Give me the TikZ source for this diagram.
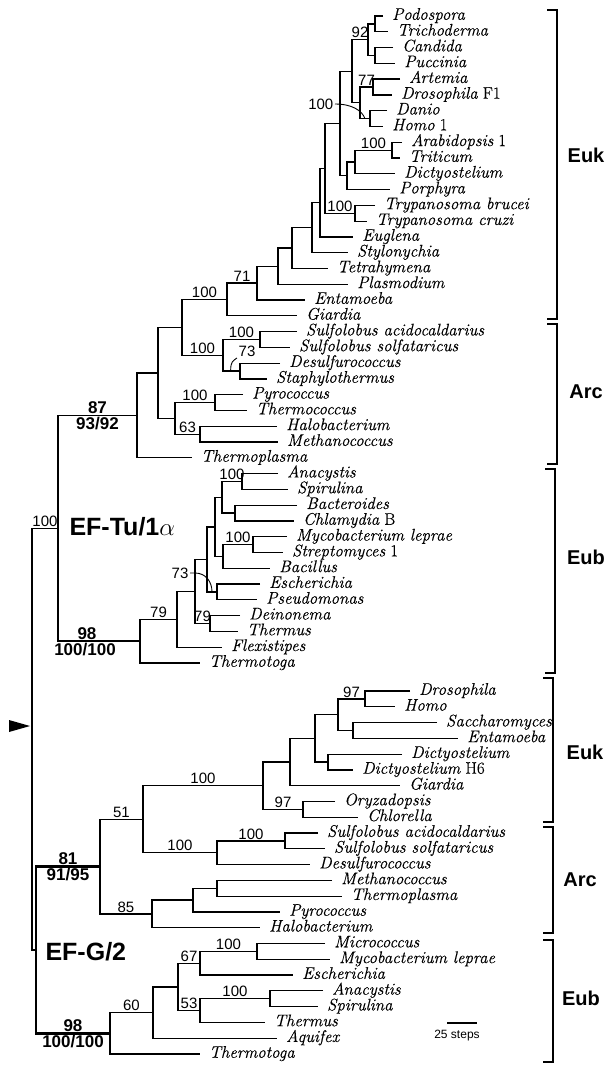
\documentclass[tikz,border=0pt]{standalone}
\usepackage{fontspec}
\newfontfamily\arialf{Liberation Sans}
\newfontfamily\leaffam{Latin Modern Roman}[FakeBold=0.35]
\usetikzlibrary{calc}
\newcommand\tLeaf{\leaffam\fontsize{16.8}{17}\selectfont}
\newcommand\tBs{\arialf\fontsize{15}{16}\selectfont}
\newcommand\tBsb{\arialf\bfseries\fontsize{17}{18}\selectfont}
\newcommand\tGrp{\arialf\bfseries\fontsize{20}{22}\selectfont}
\newcommand\tEf{\arialf\bfseries\fontsize{25}{27}\selectfont}
\newcommand\tSmall{\arialf\fontsize{12}{13}\selectfont}
% leaves: name, index, x of branch end, text
\newcommand\lfa[4]{\coordinate (#1) at (#3,{16+15.78*#2}); \node[leaf] (#1t) at (#1) {#4};}
\newcommand\lfb[4]{\coordinate (#1) at (#3,{691+15.78*#2}); \node[leaf] (#1t) at (#1) {#4};}
% clade: [style] name, x, child1, child2
\newcommand\clade[5][]{%
  \path let \p1=(#4), \p2=(#5) in coordinate (#2) at (#3pt,{0.5*\y1+0.5*\y2});
  \draw[br,#1] (#4) -- (#2 |- #4) -- (#2 |- #5) -- (#5);}
% bootstrap label centred above branch parent->child
\newcommand\bsup[4]{\node[bs,above] (#1) at ($(#2 |- #3)!0.5!(#3)$) {#4};}
\newcommand\brak[4]{%
  \coordinate (#1a) at (#2-10,#3); \coordinate (#1b) at (#2,#3);
  \coordinate (#1c) at (#2,#4); \coordinate (#1d) at (#2-10,#4);
  \draw[br] (#1a) -- (#1b) -- (#1c) -- (#1d);}
\begin{document}
\begin{tikzpicture}[x=1pt,y=-1pt,
  br/.style={line width=1.25pt, line join=miter},
  thk/.style={line width=2.6pt},
  leaf/.style={anchor=base west, inner sep=0pt, xshift=9pt, yshift=-3.8pt, font=\tLeaf},
  bs/.style={font=\tBs, inner sep=1.5pt},
  bsb/.style={font=\tBsb, inner sep=1.5pt},
  grp/.style={font=\tGrp}]
\fill[white] (0,0) rectangle (612,1065);
\useasboundingbox (0,0) rectangle (612,1065);

% ================= EF-Tu/1alpha =================
\lfa{aPod}{0}{383}{\itshape Podospora}
\lfa{aTri}{1}{388}{\itshape Trichoderma}
\lfa{aCan}{2}{393}{\itshape Candida}
\lfa{aPuc}{3}{395}{\itshape Puccinia}
\lfa{aArt}{4}{400}{\itshape Artemia}
\lfa{aDro}{5}{392}{{\itshape Drosophila} F1}
\lfa{aDan}{6}{387}{\itshape Danio}
\lfa{aHom}{7}{383}{{\itshape Homo} 1}
\lfa{aAra}{8}{402}{{\itshape Arabidopsis} 1}
\lfa{aTrt}{9}{400}{\itshape Triticum}
\lfa{aDic}{10}{395}{\itshape Dictyostelium}
\lfa{aPor}{11}{390}{\itshape Porphyra}
\lfa{aTbr}{12}{375}{\itshape Trypanosoma brucei}
\lfa{aTcr}{13}{367}{\itshape Trypanosoma cruzi}
\lfa{aEug}{14}{353}{\itshape Euglena}
\lfa{aSty}{15}{348}{\itshape Stylonychia}
\lfa{aTet}{16}{328}{\itshape Tetrahymena}
\lfa{aPla}{17}{348}{\itshape Plasmodium}
\lfa{aEnt}{18}{305}{\itshape Entamoeba}
\lfa{aGia}{19}{297}{\itshape Giardia}
\lfa{aSac}{20}{297}{\itshape Sulfolobus acidocaldarius}
\lfa{aSso}{21}{290}{\itshape Sulfolobus solfataricus}
\lfa{aDes}{22}{280}{\itshape Desulfurococcus}
\lfa{aSta}{23}{267}{\itshape Staphylothermus}
\lfa{aPyr}{24}{243}{\itshape Pyrococcus}
\lfa{aThc}{25}{247}{\itshape Thermococcus}
\lfa{aHal}{26}{277}{\itshape Halobacterium}
\lfa{aMet}{27}{278}{\itshape Methanococcus}
\lfa{aTpl}{28}{192}{\itshape Thermoplasma}
\lfa{aAna}{29}{278}{\itshape Anacystis}
\lfa{aSpi}{30}{288}{\itshape Spirulina}
\lfa{aBac}{31}{297}{\itshape Bacteroides}
\lfa{aChl}{32}{294}{{\itshape Chlamydia} B}
\lfa{aMyc}{33}{287}{\itshape Mycobacterium leprae}
\lfa{aStr}{34}{283}{{\itshape Streptomyces} 1}
\lfa{aBcl}{35}{270}{\itshape Bacillus}
\lfa{aEsc}{36}{260}{\itshape Escherichia}
\lfa{aPse}{37}{257}{\itshape Pseudomonas}
\lfa{aDei}{38}{240}{\itshape Deinonema}
\lfa{aThe}{39}{238}{\itshape Thermus}
\lfa{aFle}{40}{222}{\itshape Flexistipes}
\lfa{aTmt}{41}{200}{\itshape Thermotoga}

\clade{aPT}{375}{aPod}{aTri}
\clade{aCP}{375}{aCan}{aPuc}
\clade{aFun}{368}{aPT}{aCP}
\clade{aAD}{373}{aArt}{aDro}
\clade{aDH}{370}{aDan}{aHom}
\clade{aAni}{360}{aAD}{aDH}
\clade{aOpi}{352}{aFun}{aAni}
\clade{aAT}{392}{aAra}{aTrt}
\clade{aPl1}{355}{aAT}{aDic}
\clade{aPl2}{347}{aPl1}{aPor}
\clade{aC1}{340}{aOpi}{aPl2}
\clade{aTry}{355}{aTbr}{aTcr}
\clade{aC2}{325}{aC1}{aTry}
\clade{aNa}{320}{aC2}{aEug}
\clade{aNb}{312}{aNa}{aSty}
\clade{aNc}{292}{aNb}{aTet}
\clade{aNd}{278}{aNc}{aPla}
\clade{aNe}{257}{aNd}{aEnt}
\clade{aNf}{227}{aNe}{aGia}
\clade{aSS}{260}{aSac}{aSso}
\clade{aDS}{240}{aDes}{aSta}
\clade{aCre}{223}{aSS}{aDS}
\clade{aEA}{182}{aNf}{aCre}
\clade{aPT2}{215}{aPyr}{aThc}
\clade{aHM}{200}{aHal}{aMet}
\clade{aEur}{175}{aPT2}{aHM}
\clade{aNs}{158}{aEA}{aEur}
\clade{aNt}{137}{aNs}{aTpl}
\clade{aAS}{242}{aAna}{aSpi}
\clade{aBC}{235}{aBac}{aChl}
\clade{aASBC}{222}{aAS}{aBC}
\clade{aMS}{253}{aMyc}{aStr}
\clade{aMSB}{223}{aMS}{aBcl}
\clade{aG1}{215}{aASBC}{aMSB}
\clade{aEP}{217}{aEsc}{aPse}
\clade{aG2}{207}{aG1}{aEP}
\clade{aDT}{210}{aDei}{aThe}
\clade{aG3}{195}{aG2}{aDT}
\clade{aG4}{177}{aG3}{aFle}
\clade{aG5}{140}{aG4}{aTmt}
\clade{aRoot}{58}{aNt}{aG5}
\draw[thk] (aRoot |- aG5) -- (aG5);

\bsup{sa1}{aOpi}{aFun}{92}
\bsup{sa2}{aAni}{aAD}{77}
\bsup{sa3}{aPl1}{aAT}{100}
\bsup{sa4}{aC2}{aTry}{100}
\bsup{sa5}{aNf}{aNe}{71}
\bsup{sa6}{aEA}{aNf}{100}
\bsup{sa7}{aCre}{aSS}{100}
\bsup{sa8}{aEA}{aCre}{100}
\bsup{sa9}{aEur}{aPT2}{100}
\bsup{sa10}{aEur}{aHM}{63}
\bsup{sa11}{aASBC}{aAS}{100}
\bsup{sa12}{aMSB}{aMS}{100}
\bsup{sa13}{aG5}{aG4}{79}
\bsup{sa14}{aG3}{aDT}{79}

% pointer labels
\node[bs, anchor=east] (tArc) at (335,104) {100};
\coordinate (tArcE) at ($(aAni |- aDH)!0.5!(aDH)$);
\draw[br, line width=0.9pt] (tArc.east) .. controls +(17,0) and +(-3,-8) .. (tArcE);
\node[bs] (tA73) at (247,351) {73};
\coordinate (tA73e) at ($(aCre |- aDS)!0.45!(aDS)$);
\draw[br, line width=0.9pt] (tA73e) .. controls +(0,-10) and +(-4,3) .. (tA73.south west);
\node[bs] (tE73) at (180,573) {73};
\coordinate (tE73a) at (aG3 |- tE73);
\coordinate (tE73b) at ($(aG2 |- aEP)!0.5!(aEP)$);
\draw[br, line width=0.9pt] (tE73.east) -- (tE73a) .. controls +(11,0) and +(0,-10) .. (tE73b);

\node[bsb, above] (b87) at ($(aRoot |- aNt)!0.5!(aNt)$) {87};
\node[bsb, below] (b9392) at ($(aRoot |- aNt)!0.5!(aNt)$) {93/92};
\node[bsb, above] (b98a) at ($(aRoot |- aG5)+(29,0)$) {98};
\node[bsb, below] (b100a) at ($(aRoot |- aG5)+(27,0)$) {100/100};
\node[font=\tEf, anchor=west] (efTu) at (66,527) {EF-Tu/1$\alpha$};

% ================= EF-G/2 =================
\lfb{bDro}{0}{410}{\itshape Drosophila}
\lfb{bHom}{1}{395}{\itshape Homo}
\lfb{bSacc}{2}{437}{\itshape Saccharomyces}
\lfb{bEnt}{3}{458}{\itshape Entamoeba}
\lfb{bDic}{4}{402}{\itshape Dictyostelium}
\lfb{bH6}{5}{353}{{\itshape Dictyostelium} H6}
\lfb{bGia}{6}{400}{\itshape Giardia}
\lfb{bOry}{7}{335}{\itshape Oryzadopsis}
\lfb{bChl}{8}{358}{\itshape Chlorella}
\lfb{bSacd}{9}{318}{\itshape Sulfolobus acidocaldarius}
\lfb{bSso}{10}{325}{\itshape Sulfolobus solfataricus}
\lfb{bDes}{11}{310}{\itshape Desulfurococcus}
\lfb{bMet}{12}{332}{\itshape Methanococcus}
\lfb{bTpl}{13}{342}{\itshape Thermoplasma}
\lfb{bPyr}{14}{280}{\itshape Pyrococcus}
\lfb{bHal}{15}{260}{\itshape Halobacterium}
\lfb{bMic}{16}{325}{\itshape Micrococcus}
\lfb{bMyc}{17}{330}{\itshape Mycobacterium leprae}
\lfb{bEsc}{18}{293}{\itshape Escherichia}
\lfb{bAna}{19}{323}{\itshape Anacystis}
\lfb{bSpi}{20}{318}{\itshape Spirulina}
\lfb{bThe}{21}{265}{\itshape Thermus}
\lfb{bAqu}{22}{277}{\itshape Aquifex}
\lfb{bTmt}{23}{200}{\itshape Thermotoga}

\clade{bDH}{365}{bDro}{bHom}
\clade{bSE}{353}{bSacc}{bEnt}
\clade{bDS}{338}{bDH}{bSE}
\clade{bDD}{328}{bDic}{bH6}
\clade{bG1}{315}{bDS}{bDD}
\clade{bG2}{290}{bG1}{bGia}
\clade{bOC}{303}{bOry}{bChl}
\clade{bG3}{263}{bG2}{bOC}
\clade{bSS}{285}{bSacd}{bSso}
\clade{bSD}{217}{bSS}{bDes}
\clade{bG4}{143}{bG3}{bSD}
\clade{bMT}{217}{bMet}{bTpl}
\clade{bMTP}{193}{bMT}{bPyr}
\clade{bG5}{152}{bMTP}{bHal}
\clade{bG6}{100}{bG4}{bG5}
\clade{bMM}{257}{bMic}{bMyc}
\clade{bME}{200}{bMM}{bEsc}
\clade{bAS}{270}{bAna}{bSpi}
\clade{bAST}{200}{bAS}{bThe}
\clade{bG7}{178}{bME}{bAST}
\clade{bG8}{153}{bG7}{bAqu}
\clade{bG9}{110}{bG8}{bTmt}
\clade[thk]{bRoot}{36}{bG6}{bG9}
\clade{root}{32}{aRoot}{bRoot}

\bsup{sb1}{bDS}{bDH}{97}
\bsup{sb2}{bG3}{bOC}{97}
\bsup{sb3}{bG4}{bG3}{100}
\bsup{sb4}{bG4}{bSD}{100}
\bsup{sb5}{bSD}{bSS}{100}
\bsup{sb6}{bG6}{bG4}{51}
\bsup{sb7}{bG6}{bG5}{85}
\bsup{sb8}{bME}{bMM}{100}
\bsup{sb9}{bG7}{bME}{67}
\bsup{sb10}{bAST}{bAS}{100}
\bsup{sb11}{bG7}{bAST}{53}
\bsup{sb12}{bG9}{bG8}{60}
\bsup{sr}{root}{aRoot}{100}

\node[bsb, above] (b81) at ($(bRoot |- bG6)!0.5!(bG6)$) {81};
\node[bsb, below] (b9195) at ($(bRoot |- bG6)!0.5!(bG6)$) {91/95};
\node[bsb, above] (b98b) at ($(bRoot |- bG9)!0.5!(bG9)$) {98};
\node[bsb, below] (b100b) at ($(bRoot |- bG9)!0.5!(bG9)$) {100/100};
\node[font=\tEf, anchor=west] (efG) at (42,952) {EF-G/2};

% root marker
\coordinate (arT) at (30,726);
\fill (9,720) -- (arT) -- (9,732) -- cycle;

% brackets and group labels
\brak{k1}{557}{10}{319}
\brak{k2}{557}{324}{464}
\brak{k3}{555}{469}{673}
\brak{k4}{553}{678}{822}
\brak{k5}{553}{827}{933}
\brak{k6}{553}{940}{1062}
\node[grp] (g1) at (586,155) {Euk};
\node[grp] (g2) at (586,392) {Arc};
\node[grp] (g3) at (586,557) {Eub};
\node[grp] (g4) at (585,752) {Euk};
\node[grp] (g5) at (580,880) {Arc};
\node[grp] (g6) at (581,998) {Eub};

% scale bar
\coordinate (sc1) at (447,1023);
\coordinate (sc2) at (477,1023);
\draw[br] (sc1) -- (sc2);
\node[font=\tSmall] (scl) at (457,1036) {25 steps};
\end{tikzpicture}
\end{document}
